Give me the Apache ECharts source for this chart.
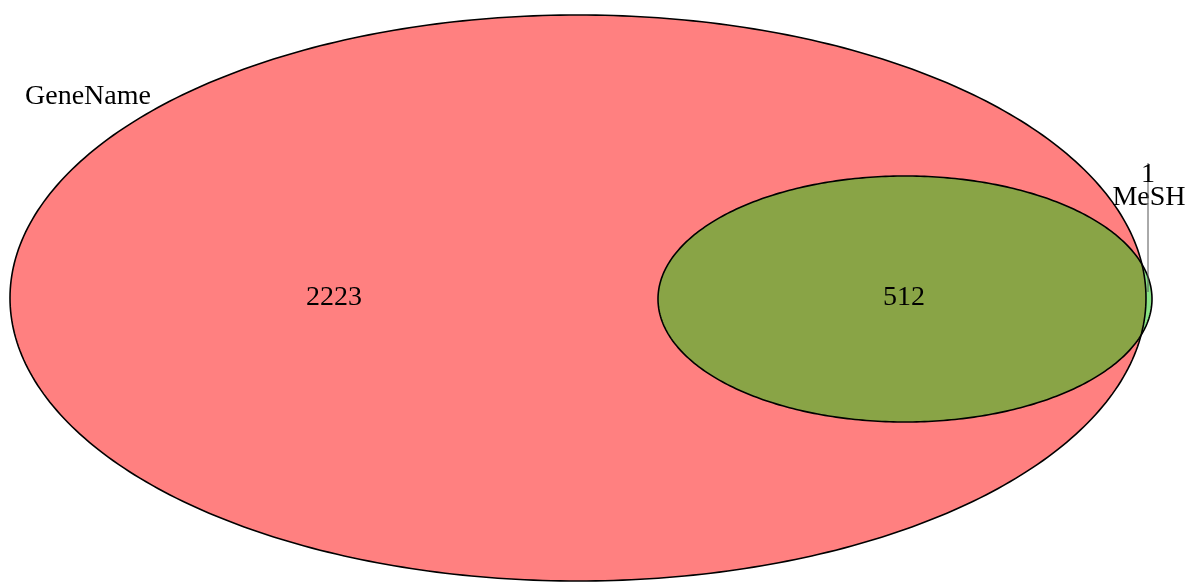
<!DOCTYPE html>
<html><head><meta charset="utf-8">
<script src="https://cdn.jsdelivr.net/npm/echarts@6/dist/echarts.min.js"></script>
<style>html,body{margin:0;padding:0;background:#fff}#c{width:1192px;height:583px}</style>
</head><body><div id="c"></div>
<script>
// Data
const setNames = ['GeneName', 'MeSH'];
const regionNames = ['GeneName only', 'GeneName & MeSH', 'MeSH only'];
const regionCounts = [2223, 512, 1];

// Layout (Venn geometry in chart units)
const ellipses = [
  {cx: 578, cy: 298, rx: 568, ry: 283, fill: '#ff8080'},
  {cx: 905, cy: 299, rx: 247, ry: 123, fill: 'rgba(20,200,12,0.5)'}
];
const setLabelPos = [[88, 97], [1149, 198]];
const regionLabelPos = [[334, 298], [904, 298], [1148, 175]];

const chart = echarts.init(document.getElementById('c'));
const FONT = '"Liberation Serif", "DejaVu Serif", serif';

function ellipsePoints(api, e) {
  const pts = [];
  const n = 400;
  for (let i = 0; i < n; i++) {
    const t = i / n * Math.PI * 2;
    pts.push(api.coord([e.cx + e.rx * Math.cos(t), e.cy + e.ry * Math.sin(t)]));
  }
  return pts;
}

chart.setOption({
  animation: false,
  grid: {left: 0, right: 0, top: 0, bottom: 0},
  xAxis: {type: 'value', min: 0, max: 1192, show: false},
  yAxis: {type: 'value', min: 0, max: 583, inverse: true, show: false},
  series: [
    {
      type: 'custom',
      coordinateSystem: 'cartesian2d',
      data: setNames.map((n, i) => [i]),
      renderItem: function (params, api) {
        const e = ellipses[params.dataIndex];
        return {
          type: 'polygon',
          shape: {points: ellipsePoints(api, e)},
          style: {fill: e.fill, stroke: null}
        };
      },
      z: 1
    },
    {
      type: 'custom',
      coordinateSystem: 'cartesian2d',
      data: setNames.map((n, i) => [i]),
      renderItem: function (params, api) {
        const e = ellipses[params.dataIndex];
        return {
          type: 'polygon',
          shape: {points: ellipsePoints(api, e)},
          style: {fill: null, stroke: '#000', lineWidth: 1.6}
        };
      },
      z: 2
    },
    {
      type: 'custom',
      coordinateSystem: 'cartesian2d',
      data: setNames.map((n, i) => [i]),
      renderItem: function (params, api) {
        const p = api.coord(setLabelPos[params.dataIndex]);
        return {
          type: 'text',
          x: p[0], y: p[1],
          style: {text: setNames[params.dataIndex], fill: '#000', font: '28px ' + FONT, align: 'center', verticalAlign: 'middle'}
        };
      },
      z: 3
    },
    {
      type: 'custom',
      coordinateSystem: 'cartesian2d',
      data: regionCounts.map((v, i) => [i, v]),
      renderItem: function (params, api) {
        const i = params.dataIndex;
        const p = api.coord(regionLabelPos[i]);
        const children = [{
          type: 'text',
          x: p[0], y: p[1],
          style: {text: String(regionCounts[i]), fill: '#000', font: '28px ' + FONT, align: 'center', verticalAlign: 'middle'}
        }];
        if (i === 2) {
          const a = api.coord([1148, 163]);
          const b = api.coord([1148, 292]);
          children.unshift({
            type: 'line',
            shape: {x1: a[0], y1: a[1], x2: b[0], y2: b[1]},
            style: {stroke: '#555', lineWidth: 1}
          });
        }
        return {type: 'group', children: children};
      },
      z: 3
    }
  ]
});
</script>
</body></html>
